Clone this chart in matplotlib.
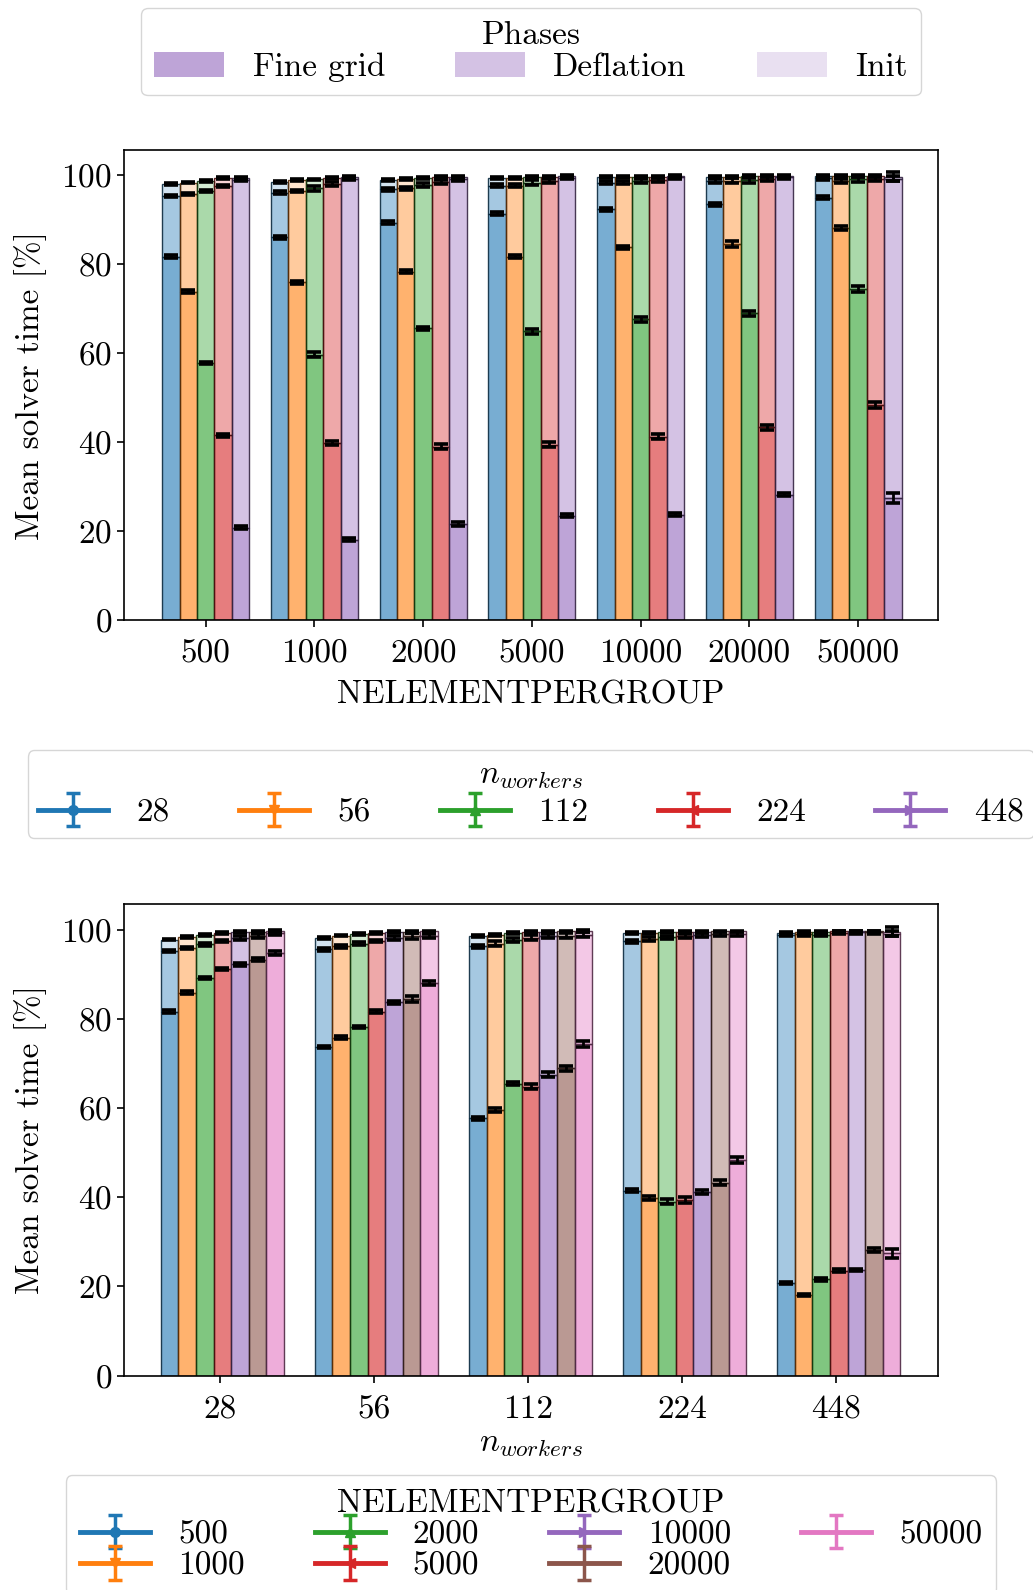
import numpy as np
import matplotlib
matplotlib.use("Agg")
import matplotlib.pyplot as plt
from matplotlib.patches import Patch
from matplotlib.colors import to_rgba

plt.rcParams['font.family'] = ['cmr10', 'DejaVu Serif']
plt.rcParams['mathtext.fontset'] = 'cm'
plt.rcParams['axes.formatter.use_mathtext'] = True
plt.rcParams['font.size'] = 24
plt.rcParams['axes.unicode_minus'] = False

# ---------------- data ----------------
nelem = [500, 1000, 2000, 5000, 10000, 20000, 50000]
nworkers = [28, 56, 112, 224, 448]

# cumulative percentages (top of each phase) per n_workers, over nelem
fine_28 = [81.6, 85.9, 89.2, 91.2, 92.2, 93.3, 94.8]
fine_56 = [73.7, 75.8, 78.2, 81.6, 83.7, 84.5, 88.0]
fine_112 = [57.7, 59.6, 65.5, 64.8, 67.5, 68.9, 74.3]
fine_224 = [41.5, 39.8, 39.0, 39.4, 41.2, 43.3, 48.3]
fine_448 = [20.8, 18.1, 21.6, 23.5, 23.7, 28.2, 27.4]

defl_28 = [95.2, 95.9, 96.7, 97.5, 98.2, 98.6, 99.2]
defl_56 = [95.6, 96.3, 96.9, 97.5, 98.2, 98.6, 98.6]
defl_112 = [96.3, 96.9, 97.7, 98.2, 98.6, 98.7, 98.9]
defl_224 = [97.4, 97.9, 98.3, 98.6, 98.8, 99.0, 99.0]
defl_448 = [98.8, 99.0, 98.9, 99.3, 99.4, 99.4, 99.1]

total_28 = [97.8, 98.3, 98.8, 99.2, 99.4, 99.5, 99.7]
total_56 = [98.2, 98.7, 99.0, 99.3, 99.4, 99.5, 99.6]
total_112 = [98.6, 98.9, 99.2, 99.4, 99.5, 99.6, 99.7]
total_224 = [99.2, 99.3, 99.4, 99.5, 99.5, 99.6, 99.6]
total_448 = [99.3, 99.4, 99.5, 99.6, 99.6, 99.6, 99.5]

fine_err_28 = [0.3, 0.3, 0.3, 0.3, 0.4, 0.3, 0.4]
fine_err_56 = [0.3, 0.3, 0.3, 0.3, 0.3, 0.7, 0.4]
fine_err_112 = [0.3, 0.5, 0.4, 0.5, 0.5, 0.6, 0.7]
fine_err_224 = [0.3, 0.4, 0.6, 0.6, 0.5, 0.5, 0.7]
fine_err_448 = [0.3, 0.3, 0.4, 0.3, 0.3, 0.4, 1.1]

defl_err_28 = [0.3, 0.3, 0.3, 0.3, 0.4, 0.4, 0.4]
defl_err_56 = [0.3, 0.3, 0.3, 0.3, 0.4, 0.6, 0.4]
defl_err_112 = [0.3, 0.5, 0.5, 0.6, 0.5, 0.5, 0.5]
defl_err_224 = [0.3, 0.4, 0.4, 0.5, 0.4, 0.4, 0.4]
defl_err_448 = [0.3, 0.3, 0.3, 0.3, 0.3, 0.3, 0.5]

total_err_28 = [0.2, 0.2, 0.2, 0.2, 0.2, 0.2, 0.2]
total_err_56 = [0.2, 0.2, 0.2, 0.2, 0.2, 0.2, 0.2]
total_err_112 = [0.2, 0.2, 0.2, 0.2, 0.2, 0.2, 0.2]
total_err_224 = [0.2, 0.2, 0.2, 0.2, 0.2, 0.2, 0.2]
total_err_448 = [0.2, 0.2, 0.2, 0.2, 0.2, 0.2, 1.0]

phases = ["Fine grid", "Deflation", "Init"]
phase_alpha = [0.6, 0.4, 0.2]

fine = np.array([fine_28, fine_56, fine_112, fine_224, fine_448])
defl = np.array([defl_28, defl_56, defl_112, defl_224, defl_448])
total = np.array([total_28, total_56, total_112, total_224, total_448])
fine_err = np.array([fine_err_28, fine_err_56, fine_err_112, fine_err_224, fine_err_448])
defl_err = np.array([defl_err_28, defl_err_56, defl_err_112, defl_err_224, defl_err_448])
total_err = np.array([total_err_28, total_err_56, total_err_112, total_err_224, total_err_448])

colors = plt.rcParams['axes.prop_cycle'].by_key()['color']
markers = ['o', 'v', '^', '<', '>', '', '']

W, H = 1033, 1590
fig = plt.figure(figsize=(W / 100, H / 100), dpi=100)
ax1 = fig.add_axes([123.7 / W, 1 - 620.4 / H, (937.7 - 123.7) / W, (620.4 - 150) / H])
ax2 = fig.add_axes([123.7 / W, 1 - 1375.6 / H, (937.7 - 123.7) / W, (1375.6 - 904.3) / H])


def stacked(ax, x, f, d, t, fe, de, te, color, width):
    edge = tuple(np.array(to_rgba(color)[:3]) * 0.35) + (0.9,)
    segs = [(np.zeros_like(f), f), (f, d - f), (d, t - d)]
    for k, (bot, h) in enumerate(segs):
        ax.bar(x, h, width, bottom=bot, color=to_rgba(color, phase_alpha[k]),
               edgecolor=edge, linewidth=1.0)
    for y, e in ((f, fe), (d, de), (t, te)):
        ax.errorbar(x, y, yerr=e, fmt='none', ecolor='k', elinewidth=2.0,
                    capsize=5.0, capthick=2.6)


# ---- top: groups by NELEMENTPERGROUP, bars by n_workers
nw = len(nworkers)
bw1 = 0.8 / nw
g1 = np.arange(len(nelem))
for i, w in enumerate(nworkers):
    x = g1 - 0.4 + (i + 0.5) * bw1
    stacked(ax1, x, fine[i], defl[i], total[i], fine_err[i], defl_err[i],
            total_err[i], colors[i], bw1)
ax1.set_xticks(g1)
ax1.set_xticklabels([str(v) for v in nelem])
ax1.set_xlim(-0.755, 6.733)
ax1.set_ylim(0, 105.5)
ax1.set_yticks([0, 20, 40, 60, 80, 100])
ax1.set_xlabel("NELEMENTPERGROUP", labelpad=8)
ax1.set_ylabel("Mean solver time [%]", labelpad=10)

# ---- bottom: groups by n_workers, bars by NELEMENTPERGROUP
ne = len(nelem)
bw2 = 0.8 / ne
g2 = np.arange(len(nworkers))
for j, n in enumerate(nelem):
    x = g2 - 0.4 + (j + 0.5) * bw2 + 0.015
    stacked(ax2, x, fine[:, j], defl[:, j], total[:, j], fine_err[:, j],
            defl_err[:, j], total_err[:, j], colors[j], bw2)
ax2.set_xticks(g2)
ax2.set_xticklabels([str(v) for v in nworkers])
ax2.set_xlim(-0.625, 4.657)
ax2.set_ylim(0, 105.7)
ax2.set_yticks([0, 20, 40, 60, 80, 100])
ax2.set_xlabel("$n_{workers}$", labelpad=4)
ax2.set_ylabel("Mean solver time [%]", labelpad=10)

for ax in (ax1, ax2):
    for s in ax.spines.values():
        s.set_linewidth(1.2)
    ax.tick_params(width=1.2, length=5)
    ax.tick_params(axis='x', pad=9)

# ---- legends
phase_handles = [Patch(facecolor=to_rgba(colors[4], a), edgecolor='none') for a in phase_alpha]
fig.legend(phase_handles, phases, title="Phases", ncol=3, loc='upper center',
           bbox_to_anchor=(0.514, 1 - 8.1 / H), borderaxespad=0.0,
           handlelength=2.1, handleheight=0.75,
           handletextpad=0.85, columnspacing=2.1, labelspacing=0.05,
           borderpad=0.4, title_fontsize=24, fontsize=24)


def eb_handle(ax, color, marker):
    h = ax.errorbar([np.nan], [np.nan], yerr=[1], color=color, marker=marker,
                    markersize=7, lw=3.5, capsize=5, capthick=2.5, elinewidth=2.5)
    return h


hw = [eb_handle(ax1, colors[i], markers[i]) for i in range(nw)]
fig.legend(hw, [str(v) for v in nworkers], title="$n_{workers}$", ncol=5,
           loc='upper center', bbox_to_anchor=(0.514, 1 - 750 / H),
           borderaxespad=0.0, handlelength=2.1,
           handletextpad=0.85, columnspacing=2.08, labelspacing=0.2,
           borderpad=0.32, title_fontsize=24, fontsize=24)

he = [eb_handle(ax2, colors[j], markers[j]) for j in range(ne)]
fig.legend(he, [str(v) for v in nelem], title="NELEMENTPERGROUP", ncol=4,
           loc='upper center', bbox_to_anchor=(0.514, 1 - 1475 / H),
           borderaxespad=0.0, handlelength=2.1,
           handletextpad=0.85, columnspacing=2.1, labelspacing=0.06,
           borderpad=0.42, title_fontsize=24, fontsize=24)

fig.savefig("out.png", dpi=100)
